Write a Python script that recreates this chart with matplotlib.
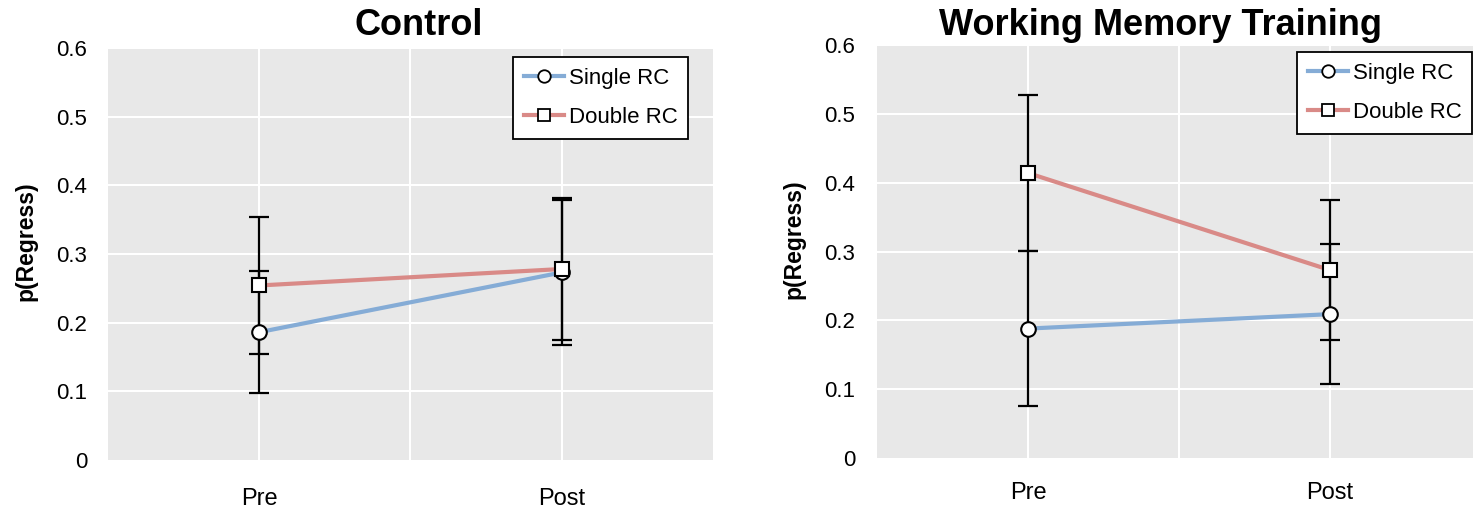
import matplotlib
matplotlib.use("Agg")
import matplotlib.pyplot as plt

plt.rcParams['font.family'] = ['Liberation Sans', 'DejaVu Sans']

sessions = ["Pre", "Post"]
yticks = [0, 0.1, 0.2, 0.3, 0.4, 0.5, 0.6]
ytick_labels = ["0", "0.1", "0.2", "0.3", "0.4", "0.5", "0.6"]

# Control group
ctrl_single = [0.186, 0.273]
ctrl_single_err = [0.089, 0.105]
ctrl_double = [0.254, 0.278]
ctrl_double_err = [0.100, 0.104]

# Working memory training group
wmt_single = [0.188, 0.209]
wmt_single_err = [0.113, 0.102]
wmt_double = [0.414, 0.273]
wmt_double_err = [0.113, 0.102]

BG = "#e8e8e8"
BLUE = "#85acd6"
RED = "#d98a87"

fig = plt.figure(figsize=(14.73, 5.15), dpi=100)
ax1 = fig.add_axes([0.0733, 0.107, 0.4107, 0.800])
ax2 = fig.add_axes([0.5954, 0.1107, 0.4100, 0.8019])


def panel(ax, title, single, single_err, double, double_err,
          title_x, title_pad, ypad, xpad, ylab_x):
    x = [0.5, 1.5]
    ax.set_facecolor(BG)
    for s in ax.spines.values():
        s.set_visible(False)
    for y in yticks[1:]:
        ax.axhline(y, color="white", lw=1.5, zorder=0)
    for xv in [0.5, 1.0, 1.5]:
        ax.axvline(xv, color="white", lw=1.5, zorder=0)

    for vals, errs, col, mk, lab in [
        (single, single_err, BLUE, "o", "Single RC"),
        (double, double_err, RED, "s", "Double RC"),
    ]:
        ax.errorbar(x, vals, yerr=errs, fmt="none", ecolor="black",
                    elinewidth=1.6, capsize=7, capthick=1.6, zorder=3)
        ax.plot(x, vals, color=col, lw=3, zorder=4)
        ax.plot(x, vals, linestyle="none", marker=mk, ms=10.5,
                mfc="white", mec="black", mew=1.5, zorder=5)
        ax.plot([], [], color=col, lw=3, marker=mk, ms=9,
                mfc="white", mec="black", mew=1.3, label=lab)

    ax.set_xlim(0, 2)
    ax.set_ylim(0, 0.6)
    ax.set_xticks(x)
    ax.set_xticklabels(sessions, fontsize=17)
    ax.set_yticks(yticks)
    ax.set_yticklabels(ytick_labels, fontsize=16)
    ax.tick_params(length=0)
    ax.tick_params(axis="y", pad=ypad)
    ax.tick_params(axis="x", pad=xpad)
    ax.set_ylabel("p(Regress)", fontsize=16.5, fontweight="bold")
    ax.yaxis.set_label_coords(ylab_x, 0.53)
    ax.set_title(title, fontsize=26, fontweight="bold", x=title_x, pad=title_pad)
    return ax


panel(ax1, "Control", ctrl_single, ctrl_single_err, ctrl_double, ctrl_double_err,
      title_x=0.513, title_pad=9, ypad=15, xpad=20, ylab_x=-0.117)
panel(ax2, "Working Memory Training", wmt_single, wmt_single_err, wmt_double, wmt_double_err,
      title_x=0.470, title_pad=7, ypad=15.5, xpad=17.5, ylab_x=-0.119)

for ax, corner in [(ax1, (513 / 1473, 1 - 57 / 515)), (ax2, (1297 / 1473, 1 - 52 / 515))]:
    leg = ax.legend(loc="upper left", bbox_to_anchor=corner,
                    bbox_transform=fig.transFigure, fontsize=16,
                    frameon=True, fancybox=False, framealpha=1,
                    edgecolor="black", handlelength=1.8, handletextpad=0.2,
                    borderpad=0.5, labelspacing=0.8, borderaxespad=0)
    leg.get_frame().set_linewidth(1.3)

fig.savefig("out.png", dpi=100)
